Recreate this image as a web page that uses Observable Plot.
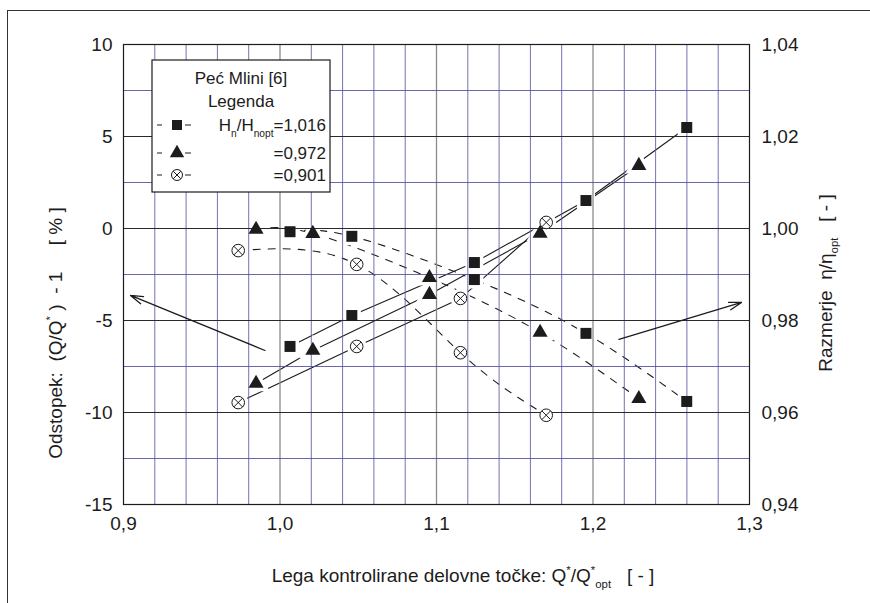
<!DOCTYPE html>
<html>
<head>
<meta charset="utf-8">
<script src="https://cdn.jsdelivr.net/npm/d3@7"></script>
<script src="https://cdn.jsdelivr.net/npm/@observablehq/plot@0.6"></script>
<style>
  body { margin: 0; background: #fff; }
  #wrap { position: relative; width: 870px; height: 603px; overflow: hidden; background: #fff; }
  #border { position: absolute; left: 7px; top: 10px; width: 1000px; height: 1000px;
            border-left: 1.5px solid #333; border-top: 1.5px solid #333; pointer-events: none; }
  #chart { position: absolute; left: 0; top: 0; }
</style>
</head>
<body>
<div id="wrap"><div id="chart"></div><div id="border"></div></div>
<script>
// ---- data ----
// series Hn/Hnopt = 1,016 (squares)
const qSquare   = [1.0064, 1.0459, 1.1242, 1.1955, 1.2599];
const devSquare = [-6.41, -4.73, -1.85, 1.52, 5.49];
const effSquare = [0.9993, 0.9983, 0.9889, 0.9772, 0.9624];
// series 0,972 (triangles)
const qTriangle   = [0.9847, 1.0210, 1.0955, 1.1662, 1.2293];
const devTriangle = [-8.42, -6.63, -3.59, -0.27, 3.42];
const effTriangle = [0.9998, 0.9989, 0.9893, 0.9774, 0.9630];
// series 0,901 (circles with cross)
const qCircle   = [0.9733, 1.0490, 1.1153, 1.1701];
const devCircle = [-9.46, -6.41, -3.80, 0.33];
const effCircle = [0.9952, 0.9922, 0.9730, 0.9594];

// annotation arrows (left -> deviation axis, right -> efficiency axis)
const arrowX1 = [0.9904, 1.2166];
const arrowY1 = [-6.63, -6.03];
const arrowX2 = [0.9045, 1.2949];
const arrowY2 = [-3.64, -4.02];

// ticks / labels
const xTicks = [0.9, 1.0, 1.1, 1.2, 1.3];
const xTickLabels = ["0,9", "1,0", "1,1", "1,2", "1,3"];
const xMinorGrid = [0.92, 0.94, 0.96, 0.98, 1.02, 1.04, 1.06, 1.08, 1.12, 1.14, 1.16, 1.18, 1.22, 1.24, 1.26, 1.28];
const xMajorGrid = [1.0, 1.1, 1.2];
const yTicks = [10, 5, 0, -5, -10, -15];
const yTickLabels = ["10", "5", "0", "-5", "-10", "-15"];
const yMinorGrid = [7.5, 2.5, -2.5, -7.5, -12.5];
const yMajorGrid = [5, 0, -5, -10];
const rightTickLabels = ["1,04", "1,02", "1,00", "0,98", "0,96", "0,94"];

// efficiency ratio shares the deviation scale: 1,04 <-> 10, 0,94 <-> -15
const effToDev = e => (e - 1) * 250;

const mk = (q, dev, eff) => q.map((x, i) => ({x, dev: dev[i], eff: effToDev(eff[i])}));
const sq = mk(qSquare, devSquare, effSquare);
const tr = mk(qTriangle, devTriangle, effTriangle);
const ci = mk(qCircle, devCircle, effCircle);
const arrows = arrowX1.map((x1, i) => ({x1, y1: arrowY1[i], x2: arrowX2[i], y2: arrowY2[i]}));

const INK = "#1c1c1c";
const F = "Liberation Sans, Arial, sans-serif";

const haloOpts = {stroke: "white", strokeWidth: 7, fill: "white"};

const chart = Plot.plot({
  width: 870, height: 603,
  marginLeft: 123, marginRight: 121, marginTop: 44, marginBottom: 99,
  style: {fontFamily: F, fontSize: "19px", background: "white", color: INK, overflow: "visible"},
  x: {domain: [0.9, 1.3]},
  y: {domain: [-15, 10]},
  marks: [
    // data lines
    Plot.line(sq, {x: "x", y: "dev", stroke: INK, strokeWidth: 1.1}),
    Plot.line(tr, {x: "x", y: "dev", stroke: INK, strokeWidth: 1.1}),
    Plot.line(ci, {x: "x", y: "dev", stroke: INK, strokeWidth: 1.1}),
    Plot.line(sq, {x: "x", y: "eff", stroke: INK, strokeWidth: 1.1, strokeDasharray: "7,8", curve: "natural"}),
    Plot.line(tr, {x: "x", y: "eff", stroke: INK, strokeWidth: 1.1, strokeDasharray: "7,8", curve: "natural"}),
    Plot.line(ci, {x: "x", y: "eff", stroke: INK, strokeWidth: 1.1, strokeDasharray: "7,8", curve: "natural"}),
    // white halos that break the lines around markers
    Plot.dot(sq, {x: "x", y: "dev", symbol: "square", r: 6.2, ...haloOpts}),
    Plot.dot(sq, {x: "x", y: "eff", symbol: "square", r: 6.2, ...haloOpts}),
    Plot.dot(tr, {x: "x", y: "dev", symbol: "triangle", r: 5.6, ...haloOpts}),
    Plot.dot(tr, {x: "x", y: "eff", symbol: "triangle", r: 5.6, ...haloOpts}),
    Plot.dot(ci, {x: "x", y: "dev", symbol: "circle", r: 6.5, ...haloOpts}),
    Plot.dot(ci, {x: "x", y: "eff", symbol: "circle", r: 6.5, ...haloOpts}),
    // grid
    Plot.gridX(xMinorGrid, {stroke: "#5a5aa6", strokeOpacity: 0.85, strokeWidth: 1}),
    Plot.gridX(xMajorGrid, {stroke: "#8c8c8c", strokeOpacity: 1, strokeWidth: 1.3}),
    Plot.gridY(yMinorGrid, {stroke: "#4c4c9a", strokeOpacity: 0.85, strokeWidth: 1}),
    Plot.gridY(yMajorGrid, {stroke: "#2a2a2a", strokeOpacity: 1, strokeWidth: 1.1}),
    Plot.frame({stroke: INK, strokeWidth: 1.2}),
    // axes
    Plot.axisX(xTicks, {anchor: "bottom", tickSize: 0, tickPadding: 12, label: null, fontSize: 19,
      tickFormat: d => xTickLabels[xTicks.indexOf(d)]}),
    Plot.axisY(yTicks, {anchor: "left", tickSize: 0, tickPadding: 11, label: null, fontSize: 19,
      tickFormat: d => yTickLabels[yTicks.indexOf(d)]}),
    Plot.axisY(yTicks, {anchor: "right", tickSize: 0, tickPadding: 12, label: null, fontSize: 19,
      tickFormat: d => rightTickLabels[yTicks.indexOf(d)]}),
    // markers
    Plot.dot(sq, {x: "x", y: "dev", symbol: "square", r: 6.2, fill: INK}),
    Plot.dot(sq, {x: "x", y: "eff", symbol: "square", r: 6.2, fill: INK}),
    Plot.dot(tr, {x: "x", y: "dev", symbol: "triangle", r: 5.6, fill: INK}),
    Plot.dot(tr, {x: "x", y: "eff", symbol: "triangle", r: 5.6, fill: INK}),
    Plot.dot(ci, {x: "x", y: "dev", symbol: "circle", r: 6.3, fill: "white", stroke: INK, strokeWidth: 1}),
    Plot.dot(ci, {x: "x", y: "eff", symbol: "circle", r: 6.3, fill: "white", stroke: INK, strokeWidth: 1}),
    Plot.dot(ci, {x: "x", y: "dev", symbol: "times", r: 4.1, stroke: INK, strokeWidth: 1}),
    Plot.dot(ci, {x: "x", y: "eff", symbol: "times", r: 4.1, stroke: INK, strokeWidth: 1}),
    // arrows
    Plot.arrow(arrows, {x1: "x1", y1: "y1", x2: "x2", y2: "y2", stroke: INK, strokeWidth: 1.3,
      headLength: 15, headAngle: 34, bend: 0})
  ]
});
document.getElementById("chart").appendChild(chart);

// ---- rich text helpers (sub/superscripts) ----
const svg = d3.select(chart);
function rich(g, x, y, parts, opts = {}) {
  const t = g.append("text")
    .attr("x", x).attr("y", y)
    .attr("font-family", F)
    .attr("font-size", opts.size || 19)
    .attr("fill", INK)
    .attr("text-anchor", opts.anchor || "start")
    .attr("transform", opts.rotate ? `rotate(-90 ${x} ${y})` : null);
  let shift = 0;
  for (const [txt, kind] of parts) {
    const s = kind === "sub" ? 6 : kind === "sup" ? -8 : 0;
    const sp = t.append("tspan").text(txt).attr("dy", s - shift);
    if (kind) sp.attr("font-size", (opts.size || 19) * 0.6);
    shift = s;
  }
  return t;
}

// axis titles
rich(svg, 463, 582, [["Lega kontrolirane delovne točke: Q"], ["*", "sup"], ["/Q"], ["*", "sup"], ["opt", "sub"], ["   [ - ]"]],
  {anchor: "middle", size: 19});
rich(svg, 62, 333, [["Odstopek:  (Q/Q"], ["*", "sup"], [" )  - 1     [ % ]"]],
  {anchor: "middle", size: 19, rotate: true});
rich(svg, 832, 283, [["Razmerje  η/η"], ["opt", "sub"], ["   [ - ]"]],
  {anchor: "middle", size: 19, rotate: true});

// legend box
const lg = svg.append("g");
lg.append("rect").attr("x", 152).attr("y", 60).attr("width", 178).attr("height", 132)
  .attr("fill", "white").attr("stroke", INK).attr("stroke-width", 1.2);
rich(lg, 241, 84, [["Peć Mlini [6]"]], {anchor: "middle", size: 17});
rich(lg, 241, 107, [["Legenda"]], {anchor: "middle", size: 17});
const rowsY = [125, 153, 175];
rowsY.forEach((cy, i) => {
  lg.append("line").attr("x1", 157).attr("x2", 162).attr("y1", cy).attr("y2", cy).attr("stroke", INK);
  lg.append("line").attr("x1", 185).attr("x2", 191).attr("y1", cy).attr("y2", cy).attr("stroke", INK);
  const g = lg.append("g").attr("transform", `translate(177,${cy})`);
  if (i === 0) g.append("path").attr("d", d3.symbol(d3.symbolSquare, 100)()).attr("fill", INK);
  if (i === 1) g.append("path").attr("d", d3.symbol(d3.symbolTriangle, 90)()).attr("fill", INK);
  if (i === 2) {
    g.append("circle").attr("r", 5.5).attr("fill", "white").attr("stroke", INK);
    g.append("path").attr("d", d3.symbol(d3.symbolTimes, 40)()).attr("stroke", INK).attr("fill", "none");
  }
});
rich(lg, 326, 131, [["H"], ["n", "sub"], ["/H"], ["nopt", "sub"], ["=1,016"]], {anchor: "end", size: 17});
rich(lg, 326, 159, [["=0,972"]], {anchor: "end", size: 17});
rich(lg, 326, 181, [["=0,901"]], {anchor: "end", size: 17});
</script>
</body>
</html>
